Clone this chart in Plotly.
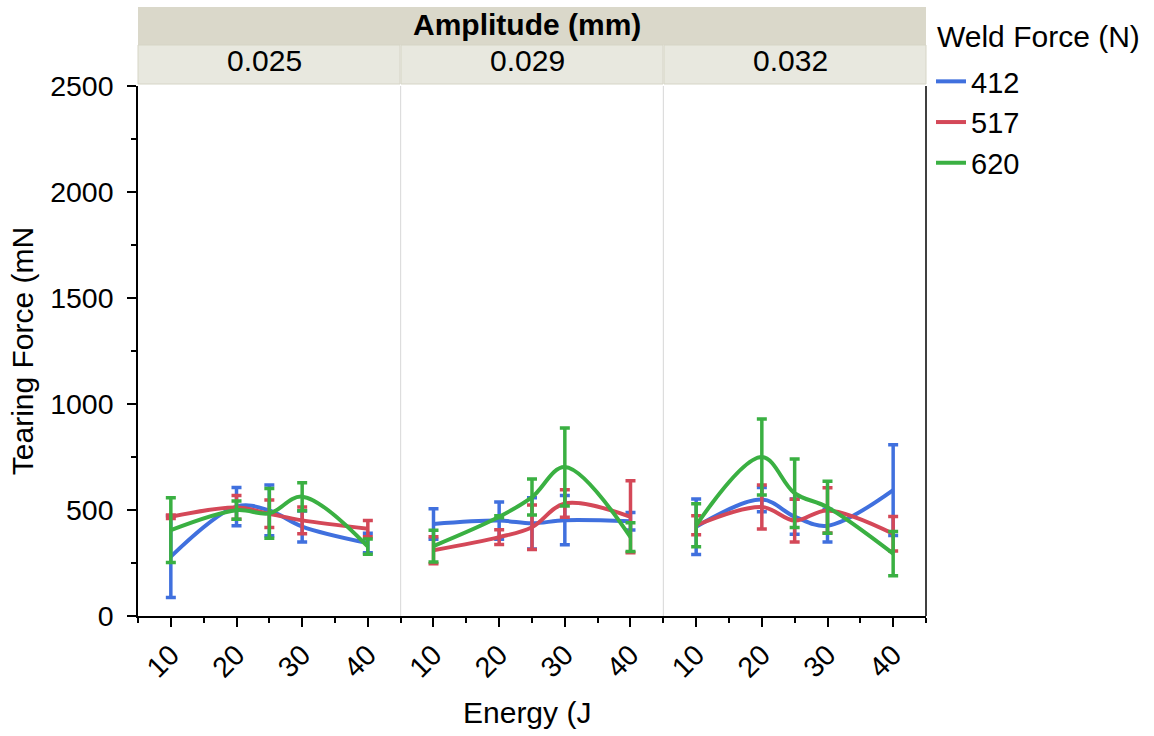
import plotly.graph_objects as go

# ---------------- data ----------------
energy = [10, 20, 25, 30, 40]
amplitudes = ["0.025", "0.029", "0.032"]
forces = ["412", "517", "620"]

# mean tearing force (mN) per amplitude panel
mean_412 = [[280, 516, 498, 422, 344], [434, 450, 437, 452, 447], [421, 549, 469, 426, 594]]
err_412 = [[193, 90, 120, 73, 46], [72, 88, 121, 116, 41], [131, 57, 83, 77, 214]]

mean_517 = [[468, 512, 482, 451, 412], [310, 372, 419, 531, 468], [428, 514, 450, 498, 388]]
err_517 = [[8, 56, 65, 63, 38], [64, 35, 105, 65, 170], [45, 104, 101, 107, 81]]

mean_620 = [[405, 499, 484, 563, 327], [330, 468, 561, 703, 372], [428, 750, 579, 513, 294]]
err_620 = [[153, 43, 117, 66, 36], [75, 5, 85, 184, 68], [101, 179, 162, 123, 104]]

colors = {"412": "rgb(64,112,222)", "517": "rgb(212,72,88)", "620": "rgb(58,176,66)"}
means = {"412": mean_412, "517": mean_517, "620": mean_620}
errs = {"412": err_412, "517": err_517, "620": err_620}

FONT = "Liberation Sans, Arial, sans-serif"
FS = 30      # titles, header
TFS = 28.5   # tick labels
LFS = 29     # legend items

fig = go.Figure()
for f in forces:
    for p in range(3):
        xa = "x" if p == 0 else f"x{p+1}"
        fig.add_trace(go.Scatter(
            x=energy, y=means[f][p], mode="lines",
            line=dict(color=colors[f], width=4, shape="spline", smoothing=1.0),
            error_y=dict(type="data", array=errs[f][p], visible=True,
                         color=colors[f], thickness=3.5, width=5),
            name=f, legendgroup=f, showlegend=(p == 0),
            xaxis=xa, yaxis="y",
        ))

W, H = 1154, 736
L, R, T, B = 138, 228, 86, 120
pw, ph = W - L - R, H - T - B

def px_to_py(ypx):
    return (H - B - ypx) / ph

def px_to_px(xpx):
    return (xpx - L) / pw

xcommon = dict(range=[5, 45], tick0=10, dtick=10, ticks="outside", ticklen=9, tickwidth=1.5,
               tickcolor="black", showline=True, linecolor="black", linewidth=1.5,
               showgrid=False, zeroline=False, tickangle=-45,
               tickfont=dict(family=FONT, size=TFS, color="black"),
               minor=dict(dtick=5, tick0=5, ticks="outside", ticklen=5, tickwidth=1.5,
                          tickcolor="black", showgrid=False))

layout = dict(
    width=W, height=H,
    margin=dict(l=L, r=R, t=T, b=B, pad=0),
    paper_bgcolor="white", plot_bgcolor="white",
    font=dict(family=FONT, size=FS, color="black"),
    yaxis=dict(range=[0, 2500], dtick=500, ticks="outside", ticklen=9, tickwidth=1.5,
               tickcolor="black", showline=True, linecolor="black", linewidth=1.5,
               showgrid=False, zeroline=False, ticklabelstandoff=8,
               tickfont=dict(family=FONT, size=TFS, color="black"),
               minor=dict(dtick=250, ticks="outside", ticklen=5, tickwidth=1.5,
                          tickcolor="black", showgrid=False),
               title=dict(text="Tearing Force (mN", font=dict(family=FONT, size=FS), standoff=8)),
    showlegend=True,
    legend=dict(x=px_to_px(931), xanchor="left", y=px_to_py(56), yanchor="top",
                font=dict(family=FONT, size=LFS, color="black"),
                traceorder="grouped", tracegroupgap=0, bgcolor="rgba(0,0,0,0)",
                itemwidth=30),
)
for p in range(3):
    key = "xaxis" if p == 0 else f"xaxis{p+1}"
    ax = dict(xcommon)
    ax["domain"] = [p / 3, (p + 1) / 3]
    ax["anchor"] = "y"
    layout[key] = ax
fig.update_layout(**layout)

# legend title
fig.add_annotation(text="Weld Force (N)", xref="paper", yref="paper", x=px_to_px(935), y=px_to_py(36),
                   showarrow=False, font=dict(family=FONT, size=FS), xanchor="left", yanchor="middle")

# x-axis title (shared)
fig.add_annotation(text="Energy (J", xref="paper", yref="paper", x=px_to_px(527), y=px_to_py(712),
                   showarrow=False, font=dict(family=FONT, size=FS), xanchor="center", yanchor="middle")

# header bands
fig.add_shape(type="rect", xref="paper", yref="paper", x0=0, x1=1,
              y0=px_to_py(45), y1=px_to_py(7), fillcolor="rgb(218,216,202)", line=dict(width=0))
fig.add_annotation(text="<b>Amplitude (mm)</b>", xref="paper", yref="paper", x=px_to_px(527),
                   y=px_to_py(25), showarrow=False, font=dict(family=FONT, size=FS),
                   xanchor="center", yanchor="middle")
cells = [(138, 400), (401, 663), (664, 926)]
for (a, b), lab in zip(cells, amplitudes):
    fig.add_shape(type="rect", xref="paper", yref="paper", x0=px_to_px(a), x1=px_to_px(b),
                  y0=px_to_py(84), y1=px_to_py(45), fillcolor="rgb(232,232,223)",
                  line=dict(color="rgb(214,213,198)", width=1))
    fig.add_annotation(text=lab, xref="paper", yref="paper", x=px_to_px((a + b) / 2 - 5),
                       y=px_to_py(61), showarrow=False, font=dict(family=FONT, size=FS),
                       xanchor="center", yanchor="middle")

# panel separators and right border
for xs in (1 / 3, 2 / 3):
    fig.add_shape(type="line", xref="paper", yref="paper", x0=xs, x1=xs, y0=0, y1=1,
                  line=dict(color="rgb(215,215,215)", width=1), layer="below")
fig.add_shape(type="line", xref="paper", yref="paper", x0=1, x1=1, y0=0, y1=1,
              line=dict(color="black", width=1.5))

fig.write_html("out.html")
